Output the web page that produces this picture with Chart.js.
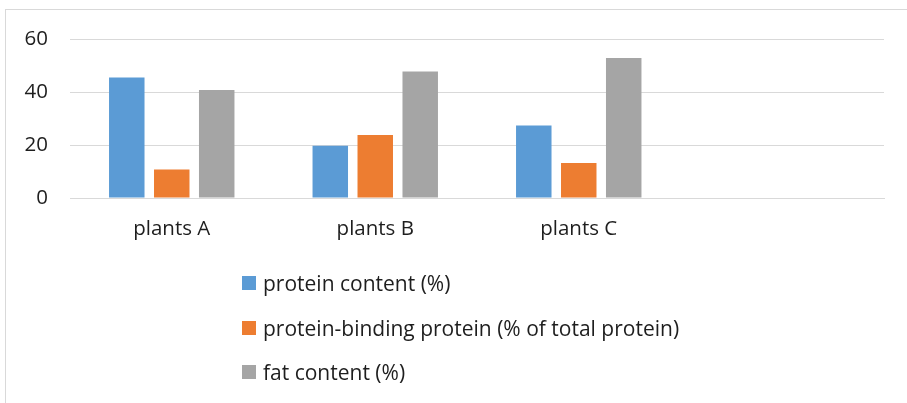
<!DOCTYPE html>
<html>
<head>
<meta charset="utf-8">
<script src="https://cdn.jsdelivr.net/npm/chart.js@4.4.1/dist/chart.umd.min.js"></script>
<style>
  html, body { margin: 0; padding: 0; background: #fff; }
  body { width: 907px; height: 403px; position: relative; overflow: hidden; font-family: "Open Sans", sans-serif; }
  #frame { position: absolute; left: 5px; top: 9px; width: 1000px; height: 1000px; border: 1px solid #d9d9d9; box-sizing: border-box; }
  #wrap { position: absolute; left: 0; top: 0; width: 907px; height: 403px; }
  #legend { position: absolute; left: 242px; top: 0; }
  .li { position: absolute; left: 0; white-space: nowrap; }
  .sw { position: absolute; left: 0; width: 14px; height: 14px; }
  .lt { position: absolute; left: 21px; font-size: 21px; color: #1e1e1e; line-height: 28px; }
</style>
</head>
<body>
<div id="frame"></div>
<div id="wrap"><canvas id="c" width="907" height="403"></canvas></div>
<div id="legend"></div>
<script>
const categories = ['plants A', 'plants B', 'plants C', ''];
const proteinContent = [45.5, 19.7, 27.4, null];
const bindingProtein = [10.8, 23.8, 13.2, null];
const fatContent = [40.8, 47.7, 52.8, null];
const seriesNames = ['protein content (%)', 'protein-binding protein (% of total protein)', 'fat content (%)'];
const seriesColors = ['#5b9bd5', '#ed7d31', '#a5a5a5'];
const yTicks = [0, 20, 40, 60];

const font = { family: '"Open Sans", sans-serif', size: 20.5 };
const chart = new Chart(document.getElementById('c'), {
  type: 'bar',
  data: {
    labels: categories,
    datasets: [proteinContent, bindingProtein, fatContent].map((d, i) => ({
      label: seriesNames[i],
      data: d,
      backgroundColor: seriesColors[i],
      borderWidth: 0,
      categoryPercentage: 0.663,
      barPercentage: 0.789
    }))
  },
  options: {
    responsive: false,
    animation: false,
    layout: { padding: { top: 39, left: 0, right: 23, bottom: 145 } },
    plugins: { legend: { display: false }, tooltip: { enabled: false } },
    scales: {
      x: {
        grid: { display: false },
        border: { display: true, color: '#d9d9d9', width: 1 },
        ticks: { font, color: '#1e1e1e', padding: 11, maxRotation: 0, autoSkip: false },
        afterFit: s => { s.height = 60; }
      },
      y: {
        min: 0, max: 60,
        afterBuildTicks: s => { s.ticks = yTicks.map(v => ({ value: v })); },
        grid: { color: '#d9d9d9', lineWidth: 1, drawTicks: false },
        border: { display: false },
        ticks: { font, color: '#1e1e1e', padding: 22 },
        afterFit: s => { s.width = 70; }
      }
    }
  }
});

const legendEl = document.getElementById('legend');
const rowCenters = [283, 328, 372];
chart.data.datasets.forEach((ds, i) => {
  const item = document.createElement('div');
  item.className = 'li';
  item.style.top = (rowCenters[i] - 14) + 'px';
  const sw = document.createElement('div');
  sw.className = 'sw';
  sw.style.top = '7px';
  sw.style.background = ds.backgroundColor;
  const t = document.createElement('div');
  t.className = 'lt';
  t.style.top = '0px';
  t.textContent = ds.label;
  item.appendChild(sw); item.appendChild(t);
  legendEl.appendChild(item);
});
</script>
</body>
</html>
